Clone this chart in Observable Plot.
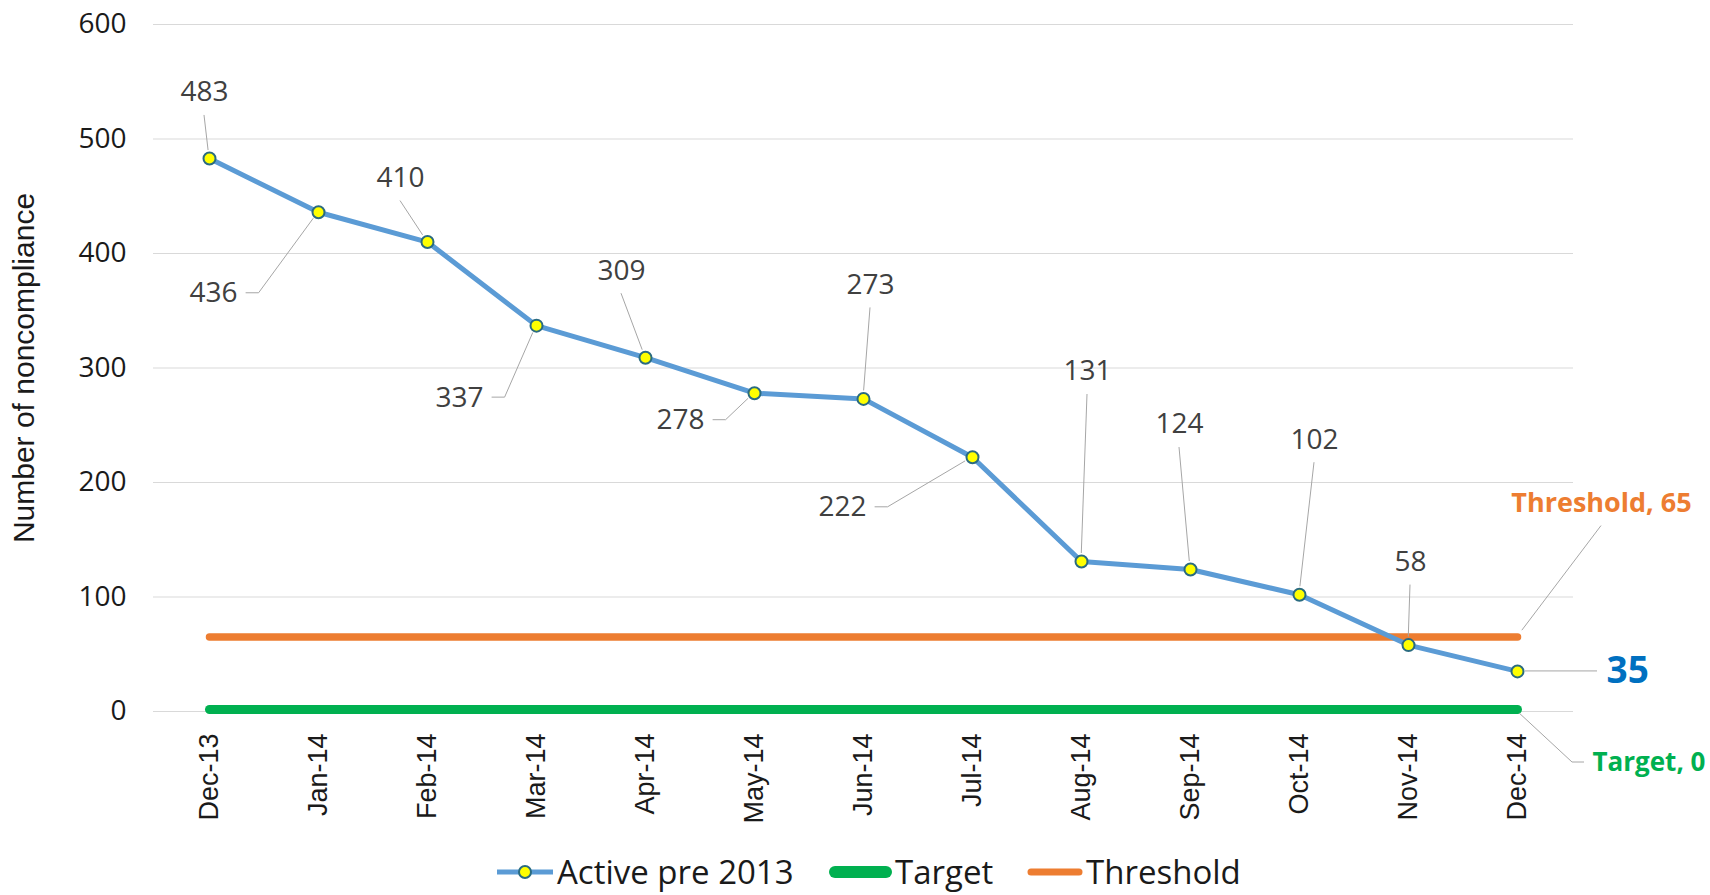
<!DOCTYPE html>
<html><head><meta charset="utf-8">
<script src="https://cdn.jsdelivr.net/npm/d3@7"></script>
<script src="https://cdn.jsdelivr.net/npm/@observablehq/plot@0.6"></script>
<style>
body{margin:0;background:#fff;}
#wrap{position:relative;width:1710px;height:895px;overflow:hidden;background:#fff;}
#wrap > svg{display:block;}
.leg{position:absolute;top:849px;height:45px;line-height:45px;display:flex;align-items:center;font-family:"Open Sans",sans-serif;font-size:33px;color:#1a1a1a;white-space:nowrap;}
.leg svg{flex:none;display:block;margin-right:3px;}
</style></head><body><div id="wrap"></div>
<script>
// ---- data ----
const months = ["Dec-13","Jan-14","Feb-14","Mar-14","Apr-14","May-14","Jun-14","Jul-14","Aug-14","Sep-14","Oct-14","Nov-14","Dec-14"];
const active = [483,436,410,337,309,278,273,222,131,124,102,58,35];
const target = [0,0,0,0,0,0,0,0,0,0,0,0,0];
const threshold = [65,65,65,65,65,65,65,65,65,65,65,65,65];
const yTicks = [0,100,200,300,400,500,600];
const seriesNames = ["Active pre 2013","Target","Threshold"];
const yTitle = "Number of noncompliance";

// ---- label layout (pixel offsets from each point) ----
const valueLabelLayout = [
  {dx:-5, dy:-66, leader:"top"},
  {dx:-105, dy:81, leader:"left"},
  {dx:-27, dy:-64, leader:"top"},
  {dx:-77, dy:72, leader:"left"},
  {dx:-24, dy:-87, leader:"top"},
  {dx:-74, dy:27, leader:"left"},
  {dx:7, dy:-114, leader:"top"},
  {dx:-130, dy:50, leader:"left"},
  {dx:6, dy:-190, leader:"top"},
  {dx:-11, dy:-145, leader:"top"},
  {dx:15, dy:-155, leader:"top"},
  {dx:2, dy:-83, leader:"top"},
  {dx:89, dy:0, leader:"right", anchor:"start"}
];
const thresholdLabelLayout = {dx:84, dy:-134, leader:"top"};
const targetLabelLayout = {dx:75, dy:51, leader:"elbowRight", anchor:"start"};

const colors = {active:"#5B9BD5", marker:"#FFFF00", markerStroke:"#2A6B80", target:"#00B050", threshold:"#ED7D31", last:"#0070C0"};

const activeData = months.map((m,i)=>({month:m, value:active[i]}));
const targetData = months.map((m,i)=>({month:m, value:target[i]}));
const thresholdData = months.map((m,i)=>({month:m, value:threshold[i]}));
const last = months.length-1;

const W = 1710, H = 845;

const labelMarks = activeData.map((d,i)=>{
  const L = valueLabelLayout[i];
  const isLast = i === last;
  return Plot.text([d], {x:"month", y:"value", text:d=>String(d.value), dx:L.dx, dy:L.dy,
    textAnchor: L.anchor || "middle",
    fontSize: isLast ? 37 : 28, fontWeight: isLast ? "bold" : "normal",
    fontFamily:"Open Sans", fill: isLast ? colors.last : "#404040"});
});

const plot = Plot.plot({
  width: W, height: H,
  marginTop: 24, marginBottom: H-711, marginLeft: 153, marginRight: 137,
  x: {type:"point", domain: months, padding:0.5, label:null},
  y: {domain:[0,600], label:null},
  style: {background:"#fff", overflow:"visible"},
  marks: [
    Plot.gridY(yTicks, {stroke:"#d9d9d9", strokeOpacity:1, strokeWidth:1}),
    Plot.axisY({ticks:yTicks, tickSize:0, tickPadding:27, fontSize:28, fontFamily:"Open Sans", fill:"#1a1a1a", label:null}),
    Plot.axisX({tickSize:0, tickRotate:-90, tickPadding:22, fontSize:27, fontFamily:"Liberation Sans", fill:"#1a1a1a", label:null}),
    Plot.text([yTitle], {frameAnchor:"left", textAnchor:"middle", rotate:-90, dx:-129, fontSize:30, fontFamily:"Liberation Sans", fill:"#1a1a1a"}),
    Plot.line(targetData, {x:"month", y:"value", stroke:colors.target, strokeWidth:9, strokeLinecap:"round", dy:-2}),
    Plot.line(thresholdData, {x:"month", y:"value", stroke:colors.threshold, strokeWidth:7.5, strokeLinecap:"round"}),
    Plot.line(activeData, {x:"month", y:"value", stroke:colors.active, strokeWidth:5, strokeLinejoin:"round"}),
    Plot.dot(activeData, {x:"month", y:"value", r:6, fill:colors.marker, stroke:colors.markerStroke, strokeWidth:2}),
    ...labelMarks,
    Plot.text([thresholdData[last]], {x:"month", y:"value", text:d=>`${seriesNames[2]}, ${d.value}`,
      dx:thresholdLabelLayout.dx, dy:thresholdLabelLayout.dy, fontSize:27, fontWeight:"bold", fontFamily:"Open Sans", fill:colors.threshold}),
    Plot.text([targetData[last]], {x:"month", y:"value", text:d=>`${seriesNames[1]}, ${d.value}`, textAnchor:"start",
      dx:targetLabelLayout.dx, dy:targetLabelLayout.dy, fontSize:26, fontWeight:"bold", fontFamily:"Open Sans", fill:colors.target})
  ]
});

document.getElementById("wrap").appendChild(plot);

// ---- leader lines, positioned with the plot's own scales ----
const sx = plot.scale("x"), sy = plot.scale("y");
const g = d3.select(plot).append("g").attr("fill","none").attr("stroke","#a6a6a6").attr("stroke-width",1);
function toward(P, Q, dist){ const dx=Q[0]-P[0], dy=Q[1]-P[1], l=Math.hypot(dx,dy)||1; return [P[0]+dx/l*dist, P[1]+dy/l*dist]; }
function leader(month, value, L, text){
  const P = [sx.apply(month), sy.apply(value)];
  const C = [P[0]+L.dx, P[1]+L.dy];
  const hw = String(text).length*8.2;
  let pts;
  if (L.leader === "top") {
    const S = [C[0], C[1]+23];
    pts = [S, toward(P, S, 8)];
  } else if (L.leader === "left") {
    const A = [C[0]+hw+8, C[1]], B = [A[0]+13, C[1]];
    pts = [A, B, toward(P, B, 8)];
  } else if (L.leader === "right") {
    pts = [[P[0]+8, P[1]], [C[0]-9, C[1]]];
  } else {
    const B = [C[0]-20, C[1]], A = [C[0]-8, C[1]];
    pts = [toward(P, B, 3), B, A];
  }
  g.append("path").attr("d", d3.line()(pts));
}
activeData.forEach((d,i)=>leader(d.month, d.value, valueLabelLayout[i], d.value));
leader(months[last], threshold[last], thresholdLabelLayout, "");
leader(months[last], target[last], targetLabelLayout, "");

// ---- legend ----
const legendLeft = [496, 829, 1027];
const wrap = document.getElementById("wrap");
seriesNames.forEach((name,i)=>{
  const div = document.createElement("div");
  div.className = "leg";
  div.style.left = legendLeft[i]+"px";
  let sw;
  if (i===0) sw = `<svg width="58" height="20"><line x1="1" y1="10" x2="57" y2="10" stroke="${colors.active}" stroke-width="5"/><circle cx="29" cy="10" r="6" fill="${colors.marker}" stroke="${colors.markerStroke}" stroke-width="2"/></svg>`;
  else if (i===1) sw = `<svg width="63" height="20"><line x1="6" y1="10" x2="57" y2="10" stroke="${colors.target}" stroke-width="12" stroke-linecap="round"/></svg>`;
  else sw = `<svg width="56" height="20"><line x1="4" y1="10" x2="52" y2="10" stroke="${colors.threshold}" stroke-width="7" stroke-linecap="round"/></svg>`;
  div.innerHTML = sw + `<span>${name}</span>`;
  wrap.appendChild(div);
});
</script></body></html>
